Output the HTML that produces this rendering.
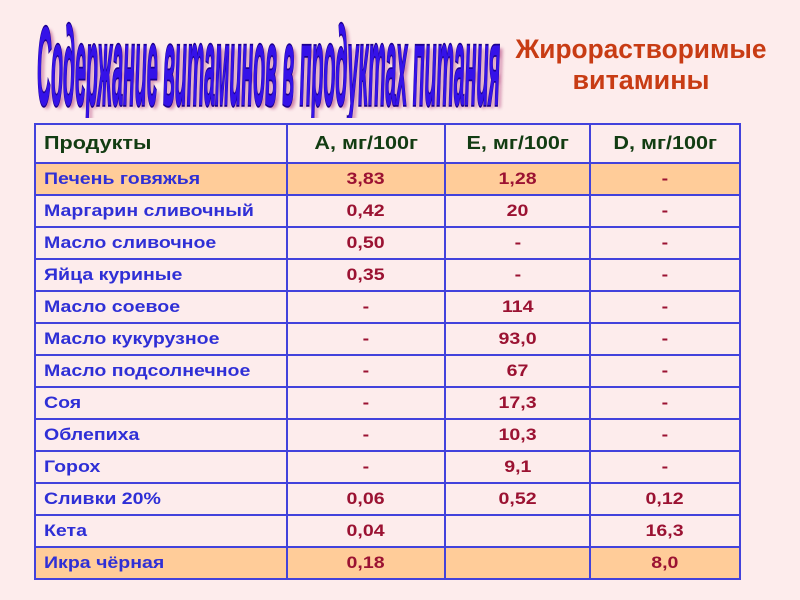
<!DOCTYPE html>
<html>
<head>
<meta charset="utf-8">
<style>
  html,body{margin:0;padding:0;}
  body{width:800px;height:600px;background:#fdecec;position:relative;overflow:hidden;font-family:"Liberation Sans","DejaVu Sans",sans-serif;}
  svg.top{position:absolute;left:0;top:0;}
  table{position:absolute;left:34px;top:123px;width:705px;border-collapse:collapse;table-layout:fixed;}
  td{border:2px solid #4242dc;padding:0;font-weight:bold;white-space:nowrap;overflow:visible;vertical-align:middle;text-align:center;}
  td.c1{text-align:left;padding-left:8px;}
  tr.h td{height:37px;font-size:18px;color:#123c12;}
  tr.r td{height:30px;font-size:17px;color:#9b1232;}
  tr.r td.c1{color:#2f2fd6;}
  tr.hl td{background:#ffcc99;}
  span{display:inline-block;transform:scaleX(1.15);transform-origin:center center;}
  tr.h span{transform:scaleX(1.2);}
  td.c1 span{transform-origin:left center;}
</style>
</head>
<body>
<svg class="top" width="800" height="125" viewBox="0 0 800 125">
  <defs>
    <filter id="b" x="-5%" y="-20%" width="110%" height="140%"><feGaussianBlur stdDeviation="1.5"/></filter>
    <clipPath id="cl"><rect x="0" y="0" width="520" height="118"/></clipPath>
  </defs>
  <g clip-path="url(#cl)">
  <text x="40" y="108" font-family="Liberation Sans, sans-serif" font-weight="bold" font-style="italic" font-size="112" textLength="463" lengthAdjust="spacingAndGlyphs" fill="#b0407a" opacity="0.6" filter="url(#b)">Содержание витаминов  в продуктах питания</text>
  <text x="37" y="105" font-family="Liberation Sans, sans-serif" font-weight="bold" font-style="italic" font-size="112" textLength="463" lengthAdjust="spacingAndGlyphs" fill="#3512e8" stroke="#1c0090" stroke-width="3.5" paint-order="stroke">Содержание витаминов  в продуктах питания</text>
  </g>
  <text x="641" y="58" text-anchor="middle" font-family="Liberation Sans, sans-serif" font-weight="bold" font-size="27" textLength="251" lengthAdjust="spacingAndGlyphs" fill="#c83c14">Жирорастворимые</text>
  <text x="641" y="89" text-anchor="middle" font-family="Liberation Sans, sans-serif" font-weight="bold" font-size="27" textLength="137" lengthAdjust="spacingAndGlyphs" fill="#c83c14">витамины</text>
</svg>
<table>
  <colgroup><col style="width:252px"><col style="width:158px"><col style="width:145px"><col style="width:150px"></colgroup>
  <tr class="h"><td class="c1"><span>Продукты</span></td><td><span>A, мг/100г</span></td><td><span>E, мг/100г</span></td><td><span>D, мг/100г</span></td></tr>
  <tr class="r hl"><td class="c1"><span>Печень говяжья</span></td><td><span>3,83</span></td><td><span>1,28</span></td><td><span>-</span></td></tr>
  <tr class="r"><td class="c1"><span>Маргарин сливочный</span></td><td><span>0,42</span></td><td><span>20</span></td><td><span>-</span></td></tr>
  <tr class="r"><td class="c1"><span>Масло сливочное</span></td><td><span>0,50</span></td><td><span>-</span></td><td><span>-</span></td></tr>
  <tr class="r"><td class="c1"><span>Яйца куриные</span></td><td><span>0,35</span></td><td><span>-</span></td><td><span>-</span></td></tr>
  <tr class="r"><td class="c1"><span>Масло соевое</span></td><td><span>-</span></td><td><span>114</span></td><td><span>-</span></td></tr>
  <tr class="r"><td class="c1"><span>Масло кукурузное</span></td><td><span>-</span></td><td><span>93,0</span></td><td><span>-</span></td></tr>
  <tr class="r"><td class="c1"><span>Масло подсолнечное</span></td><td><span>-</span></td><td><span>67</span></td><td><span>-</span></td></tr>
  <tr class="r"><td class="c1"><span>Соя</span></td><td><span>-</span></td><td><span>17,3</span></td><td><span>-</span></td></tr>
  <tr class="r"><td class="c1"><span>Облепиха</span></td><td><span>-</span></td><td><span>10,3</span></td><td><span>-</span></td></tr>
  <tr class="r"><td class="c1"><span>Горох</span></td><td><span>-</span></td><td><span>9,1</span></td><td><span>-</span></td></tr>
  <tr class="r"><td class="c1"><span>Сливки 20%</span></td><td><span>0,06</span></td><td><span>0,52</span></td><td><span>0,12</span></td></tr>
  <tr class="r"><td class="c1"><span>Кета</span></td><td><span>0,04</span></td><td></td><td><span>16,3</span></td></tr>
  <tr class="r hl"><td class="c1"><span>Икра чёрная</span></td><td><span>0,18</span></td><td></td><td><span>8,0</span></td></tr>
</table>
</body>
</html>
